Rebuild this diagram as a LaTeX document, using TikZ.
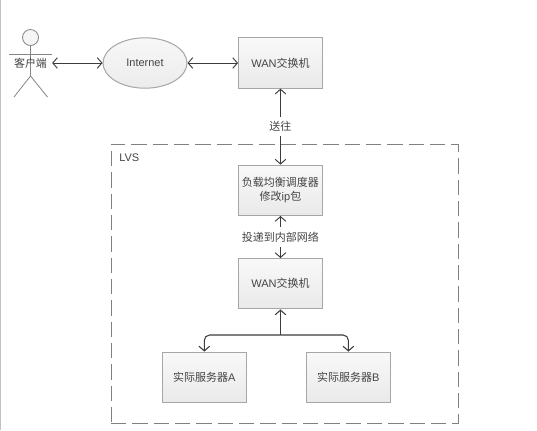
\documentclass[tikz,border=0pt]{standalone}
\usepackage{fontspec}
\setmainfont{Liberation Sans}
\newfontfamily\cjk{Noto Sans CJK SC}
\usetikzlibrary{arrows.meta,shapes.geometric}
\newcommand{\zh}[1]{{\cjk #1}}
\definecolor{edgegray}{HTML}{A6A6A6}
\definecolor{inkgray}{HTML}{444444}
\definecolor{linedark}{HTML}{3C3C3C}
\tikzset{
  x=0.75pt,y=-0.75pt,
  every node/.style={font=\fontsize{8.25pt}{10.5pt}\selectfont,text=inkgray},
  boxnode/.style={draw=edgegray,line width=0.75pt,top color=gray!5,bottom color=gray!17,
    minimum width=63pt,minimum height=37.8pt,inner sep=0pt,align=center},
  oval/.style={ellipse,draw=edgegray,line width=0.75pt,top color=gray!6,bottom color=gray!15,
    minimum width=63pt,minimum height=37.8pt,inner sep=0pt},
  conn/.style={draw=linedark,line width=0.7pt,{Straight Barb[length=3.5pt,width=8pt]}-{Straight Barb[length=3.5pt,width=8pt]}},
  onearrow/.style={draw=linedark,line width=0.8pt,-{Straight Barb[length=3.5pt,width=8pt]}},
  stick/.style={draw=edgegray!80!black,line width=0.6pt},
  lbl/.style={fill=white,inner xsep=1.5pt,inner ysep=3.5pt},
}
\begin{document}
\begin{tikzpicture}
\useasboundingbox (0,0) rectangle (537,430);
\fill[white] (0,0) rectangle (537,430);
\draw[edgegray!70,line width=1pt] (0.5,0) -- (0.5,430);
% LVS frame
\node[draw=gray,dash pattern=on 11.5pt off 4.5pt,line width=0.6pt,minimum width=260.6pt,minimum height=209.6pt,inner sep=0pt] (lvs) at (284.75,283.75) {};
\node[anchor=west,inner sep=0pt] (lvslabel) at (119,158) {LVS};
% actor
\node[circle,draw=edgegray!80!black,fill=gray!8,line width=0.6pt,minimum size=12pt,inner sep=0pt] (head) at (30.5,37.5) {};
\coordinate (hip) at (30.5,76);
\coordinate (armL) at (9,54);
\coordinate (armR) at (52,54);
\coordinate (footL) at (14,97);
\coordinate (footR) at (47.5,97);
\draw[stick] (head.south) -- (hip);
\draw[stick] (armL) -- (armR);
\draw[stick] (footL) -- (hip) -- (footR);
\node[inner sep=0pt,minimum width=32pt,minimum height=10pt] (client) at (30.5,63) {\zh{客户端}};
% nodes
\node[oval] (net) at (145,63) {Internet};
\node[boxnode] (wan1) at (280.5,63) {WAN\zh{交换机}};
\node[boxnode] (lb) at (280.5,190.3) {\zh{负载均衡调度器}\\\zh{修改}ip\zh{包}};
\node[boxnode] (wan2) at (280.5,283.7) {WAN\zh{交换机}};
\node[boxnode] (srva) at (204.3,377.3) {\zh{实际服务器}A};
\node[boxnode] (srvb) at (348.4,377.3) {\zh{实际服务器}B};
% connectors
\draw[conn] (client.east) -- (net.west);
\draw[conn] (net.east) -- (wan1.west);
\draw[conn] (wan1.south) -- node[lbl] (l1) {\zh{送往}} (lb.north);
\draw[conn] (lb.south) -- node[lbl] (l2) {\zh{投递到内部网络}} (wan2.north);
\coordinate (fork) at (280.5,335);
\draw[onearrow] (fork) -- (wan2.south);
\draw[onearrow,rounded corners=4pt] (fork) -| (srva.north);
\draw[onearrow,rounded corners=4pt] (fork) -| (srvb.north);
\end{tikzpicture}
\end{document}
